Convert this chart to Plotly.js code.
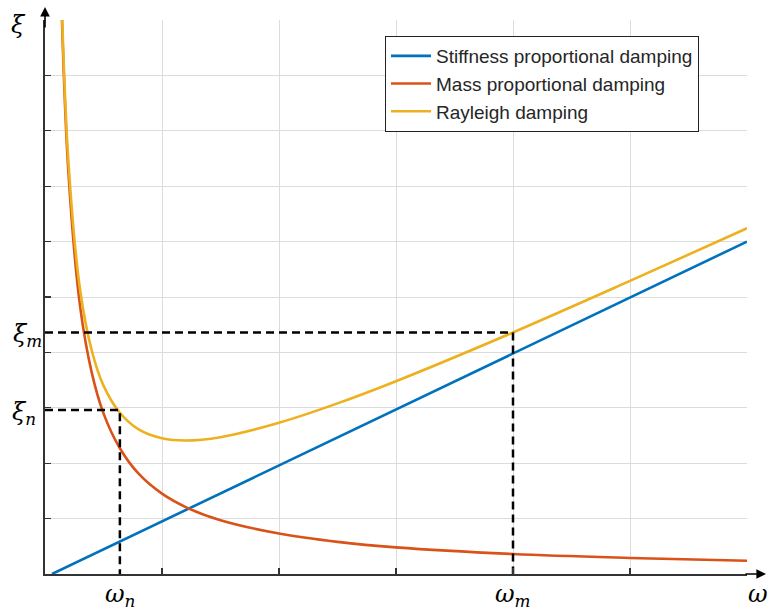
<!DOCTYPE html>
<html>
<head>
<meta charset="utf-8">
<script src="https://cdn.plot.ly/plotly-3.0.1.min.js"></script>
<style>html,body{margin:0;padding:0;background:#fff;}#chart{width:769px;height:611px;}</style>
</head>
<body>
<div id="chart"></div>
<script>
// Series (ω on x, ξ on y)
const stiffX = [0.06, 6.0];
const stiffY = [0.0, 6.0];

const massX = [0.145, 0.2, 0.3, 0.4, 0.5, 0.64, 0.8, 1.0, 1.22, 1.5, 2.0, 2.5, 3.0, 4.0, 5.0, 6.0];
const massY = [10.0, 7.25, 4.83, 3.63, 2.9, 2.27, 1.81, 1.45, 1.19, 0.97, 0.73, 0.58, 0.48, 0.36, 0.29, 0.24];

const rayX = [0.14, 0.2, 0.3, 0.4, 0.5, 0.64, 0.8, 1.0, 1.2, 1.5, 2.0, 2.5, 3.0, 4.0, 5.0, 6.0];
const rayY = [10.5, 7.45, 5.13, 4.03, 3.4, 2.91, 2.61, 2.45, 2.41, 2.47, 2.73, 3.08, 3.48, 4.36, 5.29, 6.24];

const omegaN = 0.64, xiN = 2.96;
const omegaM = 4.0, xiM = 4.36;

const seriesNames = ['Stiffness proportional damping', 'Mass proportional damping', 'Rayleigh damping'];
const seriesColors = ['#0072BD', '#D95319', '#EDB120'];

const px = v => (v - 45) / 702;      // pixel x -> paper
const py = v => (574 - v) / 554;     // pixel y -> paper

const traces = [
  {x: stiffX, y: stiffY, mode: 'lines', name: seriesNames[0], line: {color: seriesColors[0], width: 2.6}},
  {x: massX, y: massY, mode: 'lines', name: seriesNames[1], line: {color: seriesColors[1], width: 2.6, shape: 'spline'}},
  {x: rayX, y: rayY, mode: 'lines', name: seriesNames[2], line: {color: seriesColors[2], width: 2.6, shape: 'spline'}},
  {x: [0, omegaN, omegaN], y: [xiN, xiN, 0], mode: 'lines', showlegend: false, hoverinfo: 'skip',
   line: {color: '#000', width: 2.5, dash: '8px,5px'}},
  {x: [0, omegaM, omegaM], y: [xiM, xiM, 0], mode: 'lines', showlegend: false, hoverinfo: 'skip',
   line: {color: '#000', width: 2.5, dash: '8px,5px'}}
];

const mathFont = {family: 'DejaVu Serif, Liberation Serif, serif', size: 24, color: '#000'};
const lab = (o) => Object.assign({showarrow: false, font: mathFont, xanchor: 'center', yanchor: 'middle'}, o);

const layout = {
  width: 769, height: 611,
  margin: {l: 45, r: 22, t: 20, b: 37, pad: 0},
  paper_bgcolor: '#fff', plot_bgcolor: '#fff',
  showlegend: true,
  legend: {
    x: px(385), y: py(36), xanchor: 'left', yanchor: 'top',
    bgcolor: '#fff', bordercolor: '#222', borderwidth: 1,
    font: {family: 'Liberation Sans, Arial, sans-serif', size: 19, color: '#262626'},
    tracegroupgap: 0, itemwidth: 40
  },
  xaxis: {
    range: [0, 6], dtick: 1, tick0: 0, showticklabels: false,
    ticks: 'inside', ticklen: 6, tickwidth: 1.2, tickcolor: '#333',
    showgrid: true, gridcolor: '#dcdcdc', gridwidth: 1,
    zeroline: false, showline: true, linecolor: '#333', linewidth: 1.6, mirror: false, fixedrange: true
  },
  yaxis: {
    range: [0, 10], dtick: 1, tick0: 0, showticklabels: false,
    ticks: 'inside', ticklen: 6, tickwidth: 1.2, tickcolor: '#333',
    showgrid: true, gridcolor: '#dcdcdc', gridwidth: 1,
    zeroline: false, showline: true, linecolor: '#333', linewidth: 1.6, mirror: false, fixedrange: true
  },
  annotations: [
    // axis arrows
    {xref: 'paper', yref: 'paper', x: 0, y: py(7), ax: 0, ay: 22, text: '', showarrow: true,
     arrowhead: 2, arrowsize: 1.2, arrowwidth: 1.6, arrowcolor: '#000'},
    {xref: 'paper', yref: 'paper', x: px(766), y: 0, ax: -22, ay: 0, text: '', showarrow: true,
     arrowhead: 2, arrowsize: 1.2, arrowwidth: 1.6, arrowcolor: '#000'},
    // labels
    lab({xref: 'paper', yref: 'paper', x: px(18), y: py(25), text: '<i>ξ</i>'}),
    lab({xref: 'paper', yref: 'y', x: px(27), y: xiM, yshift: -3, text: '<i>ξ<sub>m</sub></i>'}),
    lab({xref: 'paper', yref: 'y', x: px(24), y: xiN, yshift: -3, text: '<i>ξ<sub>n</sub></i>'}),
    lab({xref: 'x', yref: 'paper', x: omegaN, y: py(595), text: '<i>ω<sub>n</sub></i>'}),
    lab({xref: 'x', yref: 'paper', x: omegaM, y: py(595), text: '<i>ω<sub>m</sub></i>'}),
    lab({xref: 'paper', yref: 'paper', x: px(758), y: py(594), text: '<i>ω</i>'})
  ]
};

Plotly.newPlot('chart', traces, layout, {displayModeBar: false, staticPlot: true});
</script>
</body>
</html>
